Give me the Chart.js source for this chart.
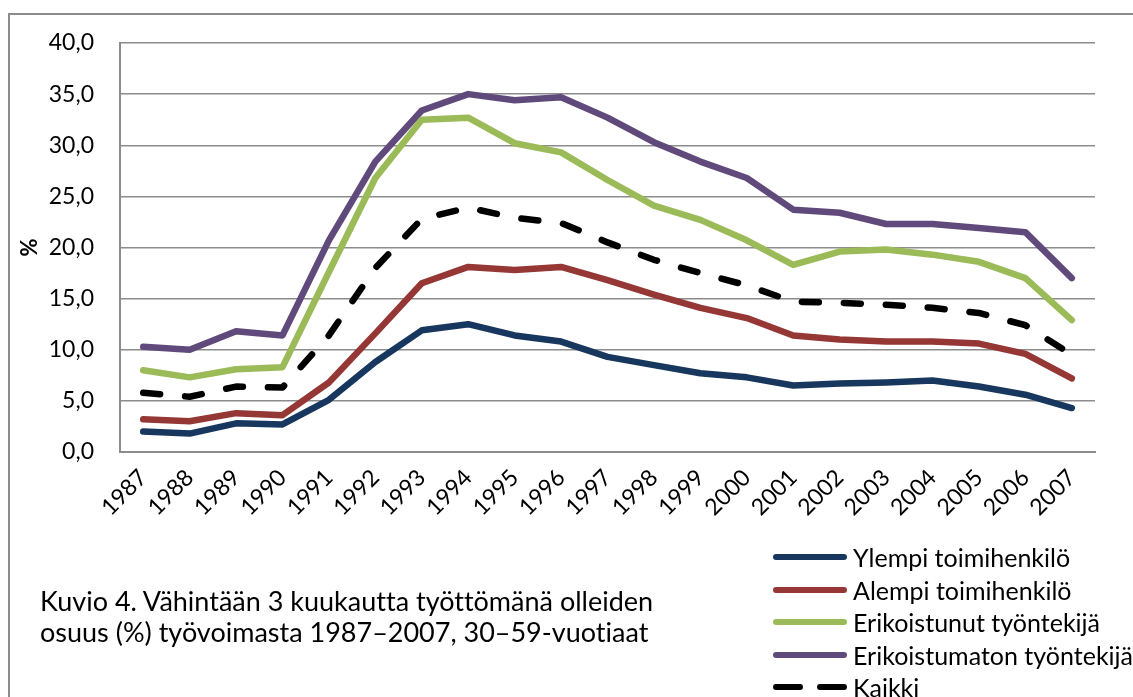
<!DOCTYPE html>
<html>
<head>
<meta charset="utf-8">
<script src="https://cdn.jsdelivr.net/npm/chart.js@4"></script>
<style>
  html, body { margin:0; padding:0; background:#fff; width:1133px; height:697px; overflow:hidden; }
  #frame { position:absolute; left:8px; top:13px; width:1300px; height:900px; border-left:2px solid #8c8c8c; border-top:2px solid #8c8c8c; }
  #wrap { position:absolute; left:0; top:0; width:1133px; height:697px; }
  #caption { position:absolute; left:40px; top:585px; font-family:Lato, sans-serif; font-size:27px; line-height:31px; color:#000; white-space:nowrap; font-variant-ligatures:none; }
  #legend { position:absolute; left:773px; top:541px; font-family:Lato, sans-serif; font-size:25px; color:#000; font-variant-ligatures:none; }
  .item { position:relative; height:32.5px; white-space:nowrap; }
  .sw { position:absolute; left:0; top:13px; width:74px; height:6px; border-radius:3px; }
  .dash { position:absolute; top:13px; width:30px; height:6px; border-radius:3px; background:#000; }
  .lbl { position:absolute; left:80px; top:0; line-height:32px; }
</style>
</head>
<body>
<div id="frame"></div>
<div id="wrap"><canvas id="c" width="1133" height="697"></canvas></div>
<div id="caption">Kuvio 4. Vähintään 3 kuukautta työttömänä olleiden<br>osuus (%) työvoimasta 1987–2007, 30–59-vuotiaat</div>
<div id="legend"></div>
<script>
const years = ['1987','1988','1989','1990','1991','1992','1993','1994','1995','1996','1997','1998','1999','2000','2001','2002','2003','2004','2005','2006','2007'];
const ylempi = [2.0,1.8,2.8,2.7,5.1,8.8,11.9,12.5,11.4,10.8,9.3,8.5,7.7,7.3,6.5,6.7,6.8,7.0,6.4,5.6,4.3];
const alempi = [3.2,3.0,3.8,3.6,6.8,11.6,16.5,18.1,17.8,18.1,16.8,15.4,14.1,13.1,11.4,11.0,10.8,10.8,10.6,9.6,7.2];
const erikoistunut = [8.0,7.3,8.1,8.3,17.6,26.8,32.5,32.7,30.2,29.3,26.6,24.1,22.7,20.7,18.3,19.6,19.8,19.3,18.6,17.0,12.9];
const erikoistumaton = [10.3,10.0,11.8,11.4,20.7,28.4,33.4,35.0,34.4,34.7,32.7,30.3,28.4,26.8,23.7,23.4,22.3,22.3,21.9,21.5,17.0];
const kaikki = [5.8,5.4,6.4,6.3,11.4,18.0,22.8,23.9,22.9,22.4,20.5,18.8,17.5,16.3,14.7,14.6,14.4,14.1,13.6,12.4,9.5];
const seriesNames = ['Ylempi toimihenkilö','Alempi toimihenkilö','Erikoistunut työntekijä','Erikoistumaton työntekijä','Kaikki'];
const seriesColors = ['#17375E','#953735','#9BBB59','#604A7B','#000000'];
const yTicks = [0,5,10,15,20,25,30,35,40];

const seriesData = [ylempi, alempi, erikoistunut, erikoistumaton, kaikki];
const datasets = seriesData.map((d, i) => ({
  label: seriesNames[i],
  data: d,
  borderColor: seriesColors[i],
  backgroundColor: seriesColors[i],
  borderWidth: 6.5,
  pointRadius: 0,
  tension: 0,
  fill: false,
  borderJoinStyle: 'round',
  borderCapStyle: 'round',
  borderDash: i === 4 ? [17, 25] : []
}));

const gridColor = '#8c8c8c';
new Chart(document.getElementById('c'), {
  type: 'line',
  data: { labels: years, datasets: datasets },
  options: {
    responsive: false,
    animation: false,
    devicePixelRatio: 1,
    layout: { padding: { top: 43, right: 38, left: 0, bottom: 0 } },
    plugins: { legend: { display: false }, tooltip: { enabled: false } },
    scales: {
      x: {
        offset: true,
        grid: { display: false, drawTicks: false },
        border: { display: true, color: gridColor, width: 2 },
        ticks: {
          autoSkip: false, minRotation: 45, maxRotation: 45, padding: 12,
          color: '#000', font: { family: 'Lato', size: 23 }
        },
        afterFit: (s) => { s.height = 245; }
      },
      y: {
        min: 0, max: 40,
        afterBuildTicks: (s) => { s.ticks = yTicks.map(v => ({ value: v })); },
        grid: { color: gridColor, lineWidth: 1.5, drawTicks: false },
        border: { display: true, color: gridColor, width: 2 },
        ticks: {
          padding: 26, color: '#000', font: { family: 'Lato', size: 23 },
          callback: (v) => Number(v).toFixed(1).replace('.', ',')
        },
        title: { display: true, text: '%', color: '#000', font: { family: 'Lato', size: 22, weight: 'bold' }, padding: { top: 17, bottom: 0 } },
        afterFit: (s) => { s.width = 120; }
      }
    }
  }
});

const leg = document.getElementById('legend');
seriesNames.forEach((name, i) => {
  const it = document.createElement('div');
  it.className = 'item';
  if (i === 4) {
    it.innerHTML = '<span class="dash" style="left:0"></span><span class="dash" style="left:44px"></span>';
  } else {
    it.innerHTML = '<span class="sw" style="background:' + seriesColors[i] + '"></span>';
  }
  const l = document.createElement('span');
  l.className = 'lbl';
  l.textContent = name;
  it.appendChild(l);
  leg.appendChild(it);
});
</script>
</body>
</html>
